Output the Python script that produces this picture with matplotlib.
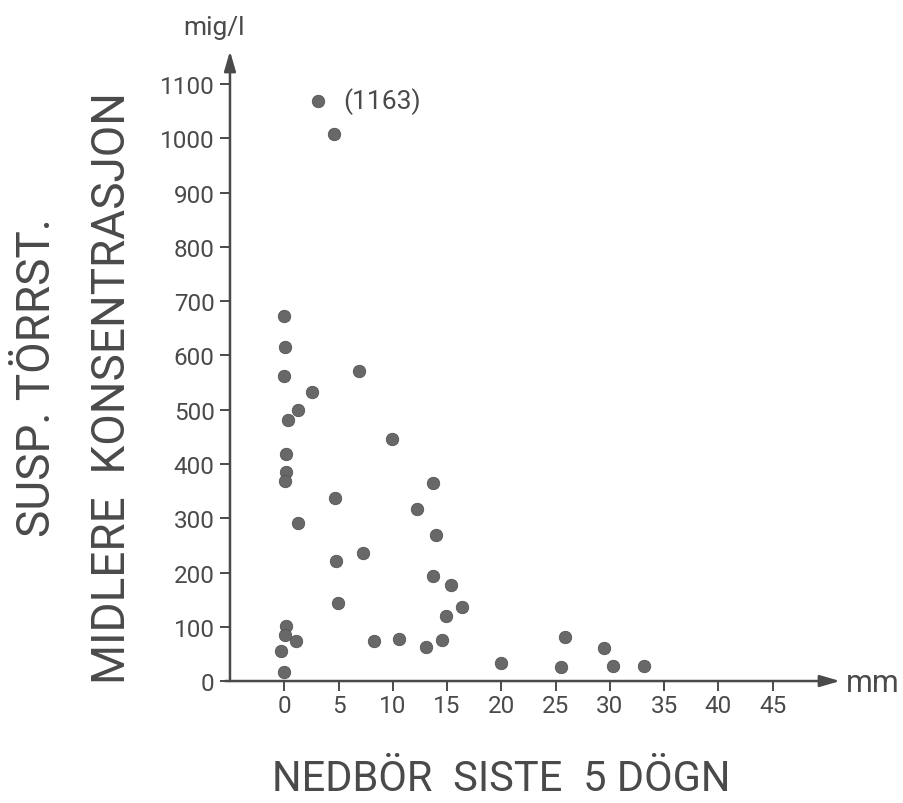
import matplotlib.pyplot as plt

# nedbör siste 5 dögn (mm) and middle concentration (mig/l)
nedbor = [3.1, 4.56, 0.0, 0.05, 0.0, 6.9, 2.6, 1.3, 0.3, 9.9,
          0.15, 0.15, 0.1, 13.7, 4.65, 12.2, 1.25, 14.0, 7.3, 4.8,
          13.75, 15.35, 16.4, 4.95, 14.9, 0.15, 0.05, 1.1, 8.25, 10.6,
          13.1, 14.5, -0.3, 0.0, 20.0, 25.9, 25.5, 29.5, 30.3, 33.1]
konsentrasjon = [1069, 1009, 673, 615, 563, 572, 532, 499, 481, 446,
                 418, 386, 368, 365, 337, 317, 292, 269, 236, 222,
                 193, 177, 136, 143, 119, 101, 85, 74, 74, 77,
                 63, 75, 56, 16, 33, 81, 25, 60, 28, 28]

x_ticks = [0, 5, 10, 15, 20, 25, 30, 35, 40, 45]
y_ticks = [0, 100, 200, 300, 400, 500, 600, 700, 800, 900, 1000, 1100]

ink = '#4a4a4a'
fam = ['Roboto', 'DejaVu Sans']
wt = 'normal'

fig = plt.figure(figsize=(9.04, 8.04), dpi=100)
ax = fig.add_axes([0.2544, 0.1517, 0.6748, 0.7836])

ax.scatter(nedbor, konsentrasjon, s=80, color='#686868', edgecolors='#555555',
           linewidths=0.6, clip_on=False, zorder=3)
ax.annotate('(1163)', xy=(nedbor[0], konsentrasjon[0]), xytext=(18, 0),
            textcoords='offset points', va='center', ha='left',
            fontsize=19, color=ink, family=fam, weight=wt)

ax.set_xlim(-5, 51.2)
ax.set_ylim(0, 1161)

for s in ax.spines.values():
    s.set_visible(False)

# axes drawn as arrows
ax.annotate('', xy=(1.0, 0), xytext=(-0.008, 0), xycoords='axes fraction',
            arrowprops=dict(arrowstyle='-|>,head_length=1.2,head_width=0.35',
                            color=ink, lw=1.8, shrinkA=0, shrinkB=0))
ax.annotate('', xy=(0, 1.0), xytext=(0, 0), xycoords='axes fraction',
            arrowprops=dict(arrowstyle='-|>,head_length=1.2,head_width=0.35',
                            color=ink, lw=1.8, shrinkA=0, shrinkB=0))

ax.set_xticks(x_ticks)
ax.set_xticklabels([str(t) for t in x_ticks])
ax.set_yticks(y_ticks)
ax.set_yticklabels([str(t) for t in y_ticks])
ax.tick_params(axis='both', direction='out', length=7, width=1.4, color=ink,
               labelcolor=ink, labelsize=17.5)
ax.tick_params(axis='y', pad=4)
ax.tick_params(axis='x', pad=2)
for lab in ax.get_xticklabels() + ax.get_yticklabels():
    lab.set_family(fam)
    lab.set_weight(wt)

fig.text(0.237, 0.965, 'mig/l', fontsize=19, color=ink, family=fam,
         weight=wt, ha='center', va='center')
fig.text(0.965, 0.150, 'mm', fontsize=22, color=ink, family=fam,
         weight=wt, ha='center', va='center')

fig.text(0.555, 0.031, 'NEDBÖR  SISTE  5 DÖGN', fontsize=30, color=ink,
         family=fam, weight=wt, ha='center', va='center')
fig.text(0.041, 0.530, 'SUSP. TÖRRST.', fontsize=33, color=ink, family=fam,
         weight=wt, rotation=90, ha='center', va='center')
fig.text(0.124, 0.517, 'MIDLERE  KONSENTRASJON', fontsize=33, color=ink,
         family=fam, weight=wt, rotation=90, ha='center', va='center')

fig.savefig('out.png', dpi=100, facecolor='white')
